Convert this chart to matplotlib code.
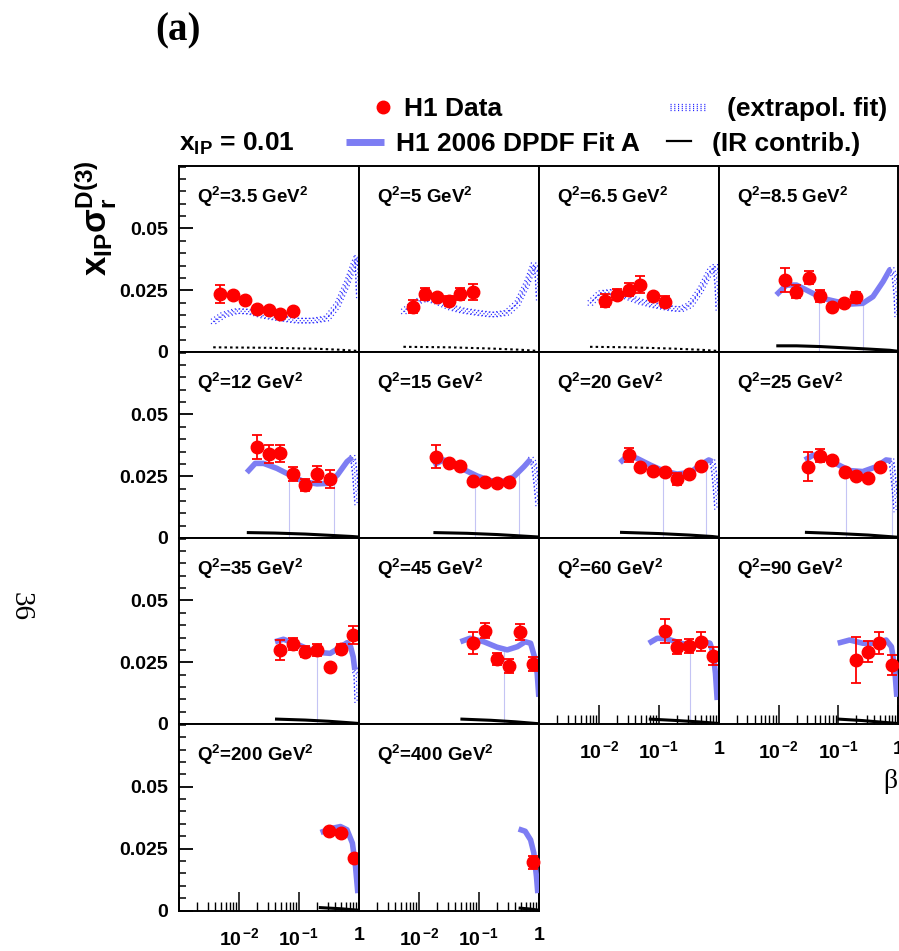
import numpy as np
import matplotlib
matplotlib.use("Agg")
import matplotlib.pyplot as plt
from matplotlib.lines import Line2D
from matplotlib.ticker import FixedLocator, FixedFormatter, LogLocator, MultipleLocator, NullFormatter
from matplotlib.transforms import offset_copy

plt.rcParams['font.family'] = ['Liberation Sans', 'DejaVu Sans']
plt.rcParams['font.weight'] = 'bold'
plt.rcParams['mathtext.fontset'] = 'custom'
plt.rcParams['mathtext.rm'] = 'Liberation Sans:bold'
plt.rcParams['mathtext.bf'] = 'Liberation Sans:bold'
plt.rcParams['mathtext.it'] = 'Liberation Sans:bold'
plt.rcParams['mathtext.sf'] = 'Liberation Sans:bold'

# ---- data (x_IP = 0.01) ----
q2_labels = ["3.5", "5", "6.5", "8.5", "12", "15", "20", "25",
             "35", "45", "60", "90", "200", "400"]

# H1 data points per Q^2 bin
beta_pts = [
    [0.0048, 0.0079, 0.0128, 0.020, 0.032, 0.049, 0.079],
    [0.0079, 0.0128, 0.020, 0.032, 0.049, 0.079],
    [0.0128, 0.020, 0.032, 0.049, 0.079, 0.128],
    [0.0128, 0.0194, 0.032, 0.049, 0.0775, 0.124, 0.20],
    [0.0199, 0.0316, 0.049, 0.079, 0.128, 0.20, 0.325],
    [0.0194, 0.0316, 0.049, 0.079, 0.128, 0.20, 0.313],
    [0.0316, 0.049, 0.079, 0.128, 0.20, 0.318, 0.505],
    [0.0316, 0.049, 0.0775, 0.128, 0.20, 0.313, 0.491],
    [0.049, 0.079, 0.128, 0.20, 0.325, 0.505, 0.80],
    [0.079, 0.128, 0.20, 0.313, 0.491, 0.80],
    [0.128, 0.20, 0.318, 0.505, 0.80],
    [0.195, 0.313, 0.479, 0.78],
    [0.318, 0.505, 0.818],
    [0.80],
]
sigma_pts = [
    [0.0235, 0.0232, 0.0211, 0.0173, 0.0170, 0.0153, 0.0166],
    [0.0184, 0.0235, 0.0224, 0.0206, 0.0235, 0.0244],
    [0.0208, 0.0232, 0.0252, 0.0273, 0.0227, 0.0204],
    [0.0291, 0.0244, 0.0301, 0.0227, 0.0184, 0.0200, 0.0221],
    [0.0370, 0.0339, 0.0343, 0.0258, 0.0215, 0.0258, 0.0239],
    [0.0329, 0.0305, 0.0291, 0.0231, 0.0228, 0.0224, 0.0228],
    [0.0336, 0.0286, 0.0273, 0.0269, 0.0239, 0.0258, 0.0293],
    [0.0289, 0.0333, 0.0316, 0.0269, 0.0251, 0.0242, 0.0289],
    [0.0300, 0.0324, 0.0293, 0.0300, 0.0230, 0.0304, 0.0360],
    [0.0329, 0.0378, 0.0263, 0.0235, 0.0371, 0.0243],
    [0.0377, 0.0313, 0.0316, 0.0333, 0.0275],
    [0.0259, 0.0293, 0.0327, 0.0239],
    [0.0319, 0.0312, 0.0210],
    [0.0195],
]
sigma_err = [
    [0.0038, 0.0011, 0.0009, 0.0008, 0.0008, 0.0007, 0.0008],
    [0.0026, 0.0024, 0.0010, 0.0021, 0.0024, 0.0033],
    [0.0026, 0.0022, 0.0027, 0.0035, 0.0010, 0.0023],
    [0.0049, 0.0026, 0.0027, 0.0024, 0.0010, 0.0010, 0.0023],
    [0.0049, 0.0037, 0.0034, 0.0028, 0.0024, 0.0032, 0.0035],
    [0.0047, 0.0010, 0.0010, 0.0009, 0.0009, 0.0009, 0.0009],
    [0.0030, 0.0010, 0.0010, 0.0010, 0.0025, 0.0010, 0.0012],
    [0.0058, 0.0027, 0.0010, 0.0010, 0.0010, 0.0010, 0.0010],
    [0.0042, 0.0024, 0.0023, 0.0024, 0.0010, 0.0020, 0.0038],
    [0.0045, 0.0030, 0.0024, 0.0027, 0.0032, 0.0030],
    [0.0050, 0.0029, 0.0028, 0.0038, 0.0036],
    [0.0093, 0.0042, 0.0045, 0.0040],
    [0.0012, 0.0012, 0.0008],
    [0.0026],
]

# H1 2006 DPDF Fit A, fitted region (log10 beta, value)
fit_logb = [
    [], [], [],
    [-2.04, -1.87, -1.70, -1.48, -1.26, -1.03, -0.81, -0.59, -0.42, -0.25, -0.14, -0.11],
    [-1.87, -1.73, -1.59, -1.37, -1.15, -0.92, -0.70, -0.53, -0.36, -0.20, -0.11],
    [-1.76, -1.59, -1.42, -1.26, -1.03, -0.81, -0.59, -0.42, -0.25, -0.14],
    [-1.65, -1.53, -1.37, -1.15, -0.92, -0.70, -0.48, -0.31, -0.17, -0.11],
    [-1.56, -1.42, -1.26, -1.03, -0.81, -0.59, -0.36, -0.20, -0.11],
    [-1.40, -1.26, -1.09, -0.87, -0.64, -0.48, -0.31, -0.20, -0.14, -0.097, -0.07],
    [-1.31, -1.15, -0.92, -0.70, -0.53, -0.36, -0.23, -0.14, -0.075, -0.03, -0.003],
    [-1.17, -1.03, -0.87, -0.64, -0.42, -0.25, -0.15, -0.097, -0.059, -0.03],
    [-1.01, -0.81, -0.59, -0.36, -0.20, -0.11, -0.058, -0.02],
    [-0.64, -0.48, -0.31, -0.20, -0.11, -0.058, -0.019],
    [-0.34, -0.23, -0.14, -0.086, -0.042, -0.02],
]
fit_val = [
    [], [], [],
    [0.0231, 0.0271, 0.0271, 0.0244, 0.0217, 0.0204, 0.0194, 0.0197, 0.0224, 0.0285, 0.0332, 0.0334],
    [0.0265, 0.0302, 0.0302, 0.0282, 0.0255, 0.0228, 0.0219, 0.0221, 0.0255, 0.0309, 0.0327],
    [0.0296, 0.0316, 0.0302, 0.0278, 0.0251, 0.0232, 0.0230, 0.0248, 0.0289, 0.0319],
    [0.0305, 0.0332, 0.0323, 0.0296, 0.0271, 0.0259, 0.0265, 0.0296, 0.0316, 0.0309],
    [0.0316, 0.0336, 0.0329, 0.0300, 0.0273, 0.0269, 0.0289, 0.0316, 0.0313],
    [0.0333, 0.0343, 0.0329, 0.0306, 0.0289, 0.0286, 0.0311, 0.0329, 0.0313, 0.0272, 0.0219],
    [0.0333, 0.0347, 0.0333, 0.0311, 0.0300, 0.0313, 0.0333, 0.0327, 0.0272, 0.0205, 0.0110],
    [0.0327, 0.0347, 0.0345, 0.0327, 0.0316, 0.0333, 0.0327, 0.0286, 0.0205, 0.0097],
    [0.0327, 0.0340, 0.0327, 0.0327, 0.0340, 0.0313, 0.0232, 0.0110],
    [0.0315, 0.0330, 0.0339, 0.0326, 0.0272, 0.0177, 0.0070],
    [0.0329, 0.0320, 0.0285, 0.0232, 0.0137, 0.0070],
]

# extrapolated part of the fit (dotted)
ext_logb = [
    [-2.43, -2.26, -2.04, -1.81, -1.59, -1.31, -1.03, -0.76, -0.53, -0.36, -0.20, -0.09, -0.03, -0.003],
    [-2.26, -2.04, -1.87, -1.70, -1.48, -1.26, -0.98, -0.76, -0.53, -0.36, -0.20, -0.09, -0.03, -0.003],
    [-2.15, -1.98, -1.76, -1.53, -1.31, -1.09, -0.81, -0.64, -0.48, -0.31, -0.14, -0.06, -0.03, -0.01],
    [-0.11, -0.06, -0.03, -0.013],
    [-0.11, -0.097, -0.07, -0.05, -0.03],
    [-0.14, -0.086, -0.058, -0.03, -0.013],
    [-0.11, -0.086, -0.059, -0.03],
    [-0.11, -0.086, -0.058, -0.03],
    [-0.07, -0.047, -0.03],
    [], [], [], [], [],
]
ext_val = [
    [0.0123, 0.0150, 0.0166, 0.0163, 0.0147, 0.0136, 0.0127, 0.0127, 0.0136, 0.0190, 0.0278, 0.0352, 0.0386, 0.0224],
    [0.0163, 0.0204, 0.0217, 0.0204, 0.0181, 0.0167, 0.0157, 0.0151, 0.0159, 0.0197, 0.0278, 0.0352, 0.0325, 0.0210],
    [0.0197, 0.0238, 0.0244, 0.0224, 0.0204, 0.0190, 0.0177, 0.0173, 0.0190, 0.0251, 0.0332, 0.0345, 0.0278, 0.0170],
    [0.0334, 0.0305, 0.0238, 0.0143],
    [0.0327, 0.0316, 0.0262, 0.0194, 0.0140],
    [0.0319, 0.0302, 0.0248, 0.0181, 0.0134],
    [0.0309, 0.0275, 0.0208, 0.0113],
    [0.0313, 0.0262, 0.0194, 0.0113],
    [0.0219, 0.0205, 0.0090],
    [], [], [], [], [],
]

# IR (reggeon) contribution
ir_logb = [
    [-2.43, -1.5, -0.7, -0.3, 0.0],
    [-2.26, -1.5, -0.8, -0.3, 0.0],
    [-2.15, -1.5, -0.8, -0.3, 0.0],
    [-2.04, -1.7, -1.3, -0.9, -0.5, -0.14, 0.0],
    [-1.87, -1.4, -0.9, -0.5, -0.11, 0.0],
    [-1.76, -1.2, -0.7, -0.14, 0.0],
    [-1.65, -1.0, -0.5, -0.11, 0.0],
    [-1.56, -1.0, -0.5, -0.11, 0.0],
    [-1.40, -0.9, -0.5, -0.1, 0.0],
    [-1.31, -0.8, -0.4, 0.0],
    [-1.17, -0.7, -0.3, 0.0],
    [-1.01, -0.6, -0.3, 0.0],
    [-0.67, -0.3, 0.0],
    [-0.34, -0.15, 0.0],
]
ir_val = [
    [0.0019, 0.0017, 0.0013, 0.0009, 0.0004],
    [0.0021, 0.0019, 0.0014, 0.0009, 0.0004],
    [0.0021, 0.0019, 0.0014, 0.0009, 0.0004],
    [0.0025, 0.0025, 0.0022, 0.0017, 0.0012, 0.0007, 0.0003],
    [0.0022, 0.0020, 0.0016, 0.0011, 0.0006, 0.0004],
    [0.0022, 0.0019, 0.0014, 0.0006, 0.0004],
    [0.0023, 0.0018, 0.0012, 0.0006, 0.0003],
    [0.0023, 0.0018, 0.0012, 0.0005, 0.0003],
    [0.0020, 0.0016, 0.0011, 0.0004, 0.0002],
    [0.0020, 0.0015, 0.0009, 0.0001],
    [0.0020, 0.0014, 0.0008, 0.0002],
    [0.0020, 0.0014, 0.0008, 0.0002],
    [0.0012, 0.0007, 0.0001],
    [0.0010, 0.0006, 0.0001],
]
ir_extrap = [True, True, True] + [False] * 11

# thin faint drop lines visible under the band
drop_logb = [[], [], [], [-1.33, -0.58], [-1.16, -0.42], [-1.07, -0.34], [-0.94, -0.21],
             [-0.87, -0.10], [-0.70], [-0.59], [-0.48], [], [], []]
drop_top = [[], [], [], [0.0215, 0.0197], [0.0252, 0.0240], [0.0256, 0.0262], [0.0270, 0.0310],
            [0.0290, 0.0310], [0.0290], [0.0300], [0.0316], [], [], []]

ytick_vals = [0, 0.025, 0.05]
ytick_text = ["0", "0.025", "0.05"]
xtick_vals = [1e-3, 1e-2, 1e-1, 1]
xtick_text = ["", r"$\mathbf{10}^{\,\mathbf{-2}}$", r"$\mathbf{10}^{\,\mathbf{-1}}$", "1"]

# ---- layout (pixels of the 899x951 page) ----
W, H = 899, 951
col_x = [179, 359, 539, 719]
col_w = [180, 180, 180, 179]
row_y = [166, 352, 538, 724]
row_h = [186, 186, 186, 186.5]
with_xlabels = [10, 11, 12, 13]

RED = '#ff0000'
BAND = '#7d7df3'
DOTBLUE = '#2a2aff'

fig = plt.figure(figsize=(W / 100, H / 100), dpi=100)


def fx(x):
    return x / W


def fy(y):
    return 1 - y / H


def dotted_band(ax, x, y, lw=0.9):
    # dotted pattern band like the ROOT fill style
    for dx, dy in [(0, 0), (2.2, 2.2), (-2.2, -2.2), (2.2, -2.2), (-2.2, 2.2)]:
        tr = offset_copy(ax.transData, fig=fig, x=dx, y=dy, units='dots')
        ax.plot(x, y, color=DOTBLUE, lw=lw, ls=(0, (0.9, 2.1)), transform=tr, zorder=2)


for i, q2 in enumerate(q2_labels):
    row, col = divmod(i, 4)
    ax = fig.add_axes([fx(col_x[col]), fy(row_y[row] + row_h[row]),
                       col_w[col] / W, row_h[row] / H])
    ax.set_xscale('log')
    ax.set_xlim(1e-3, 1)
    ax.set_ylim(0, 0.0753)
    for sp in ax.spines.values():
        sp.set_linewidth(1.4)

    ax.tick_params(which='both', direction='in', left=False, bottom=False,
                   labelleft=False, labelbottom=False, top=False, right=False)

    if col == 0:
        ax.yaxis.set_major_locator(FixedLocator(ytick_vals))
        ax.yaxis.set_major_formatter(FixedFormatter(ytick_text))
        ax.yaxis.set_minor_locator(MultipleLocator(0.005))
        ax.tick_params(axis='y', which='major', left=True, labelleft=True,
                       length=10, width=1.3, pad=8, labelsize=14)
        ax.tick_params(axis='y', which='minor', left=True, length=5, width=1.1)

    if i in with_xlabels:
        ax.xaxis.set_major_locator(FixedLocator(xtick_vals))
        ax.xaxis.set_major_formatter(FixedFormatter(xtick_text))
        ax.xaxis.set_minor_locator(LogLocator(base=10, subs=np.arange(2, 10)))
        ax.xaxis.set_minor_formatter(NullFormatter())
        ax.tick_params(axis='x', which='major', bottom=True, labelbottom=True,
                       length=13.5, width=1.1, pad=12, labelsize=14)
        ax.tick_params(axis='x', which='minor', bottom=True, length=6.5, width=1.0)

    # faint drop lines
    if drop_logb[i]:
        ax.vlines(10 ** np.array(drop_logb[i]), 0, drop_top[i], color='#c4c4f4',
                  lw=0.8, zorder=1)

    # IR contribution
    if ir_extrap[i]:
        ax.plot(10 ** np.array(ir_logb[i]), ir_val[i], color='black', lw=1.5,
                ls=(0, (1.2, 1.5)), zorder=2)
    else:
        ax.plot(10 ** np.array(ir_logb[i]), ir_val[i], color='black', lw=2.2,
                solid_capstyle='butt', zorder=2)

    # extrapolated fit
    if ext_logb[i]:
        dotted_band(ax, 10 ** np.array(ext_logb[i]), ext_val[i])

    # fitted band
    if fit_logb[i]:
        ax.plot(10 ** np.array(fit_logb[i]), fit_val[i], color=BAND, lw=4.0,
                solid_capstyle='butt', solid_joinstyle='round', zorder=3)

    # data
    ax.errorbar(beta_pts[i], sigma_pts[i], yerr=sigma_err[i], fmt='o', color=RED,
                ms=9, elinewidth=1.3, capsize=3.4, capthick=1.3, zorder=5,
                clip_on=False)

    ax.text(0.098, 0.80, r"$\mathrm{Q^{2}}$=%s GeV$\mathrm{^{2}}$" % q2,
            transform=ax.transAxes, fontsize=13.5, fontweight='bold',
            ha='left', va='baseline')

# ---- legend and labels on the page ----
fig.add_artist(Line2D([fx(383)], [fy(106.5)], marker='o', color=RED, ms=9, ls='none'))
fig.text(fx(404), fy(116), "H1 Data", fontsize=19, fontweight='bold', va='baseline')

for dy in (-2.2, 0, 2.2, 4.4):
    fig.add_artist(Line2D([fx(670), fx(707)], [fy(106 + dy), fy(106 + dy)],
                          color=DOTBLUE, lw=0.9, ls=(0, (0.9, 2.1))))
fig.text(fx(727), fy(116), "(extrapol. fit)", fontsize=19, fontweight='bold',
         va='baseline')

fig.text(fx(179), fy(151), r"$\mathrm{x_{IP}}$ = 0.01", fontsize=19, va='baseline')
fig.add_artist(Line2D([fx(346), fx(384)], [fy(142), fy(142)], color=BAND, lw=5,
                      solid_capstyle='butt'))
fig.text(fx(396), fy(151), "H1 2006 DPDF Fit A", fontsize=19, fontweight='bold',
         va='baseline')
fig.add_artist(Line2D([fx(667), fx(691)], [fy(141), fy(141)], color='black', lw=1.6))
fig.text(fx(712), fy(151), "(IR contrib.)", fontsize=19, fontweight='bold', va='baseline')

fig.text(fx(96), fy(218), r"$\mathrm{x_{IP}\sigma_{r}^{D(3)}}$", fontsize=25,
         rotation=90, ha='center', va='center')

fig.text(fx(178), fy(31), "(a)", family='Liberation Serif', fontweight='bold',
         fontsize=28, ha='center', va='center')
fig.text(fx(890), fy(782), "\u03b2", family='Liberation Serif', fontweight='normal',
         fontsize=20, ha='center', va='center')
fig.text(fx(21), fy(607), "36", family='Liberation Serif', fontweight='normal',
         fontsize=21, rotation=-90, ha='center', va='center')

fig.savefig("out.png", dpi=100)
